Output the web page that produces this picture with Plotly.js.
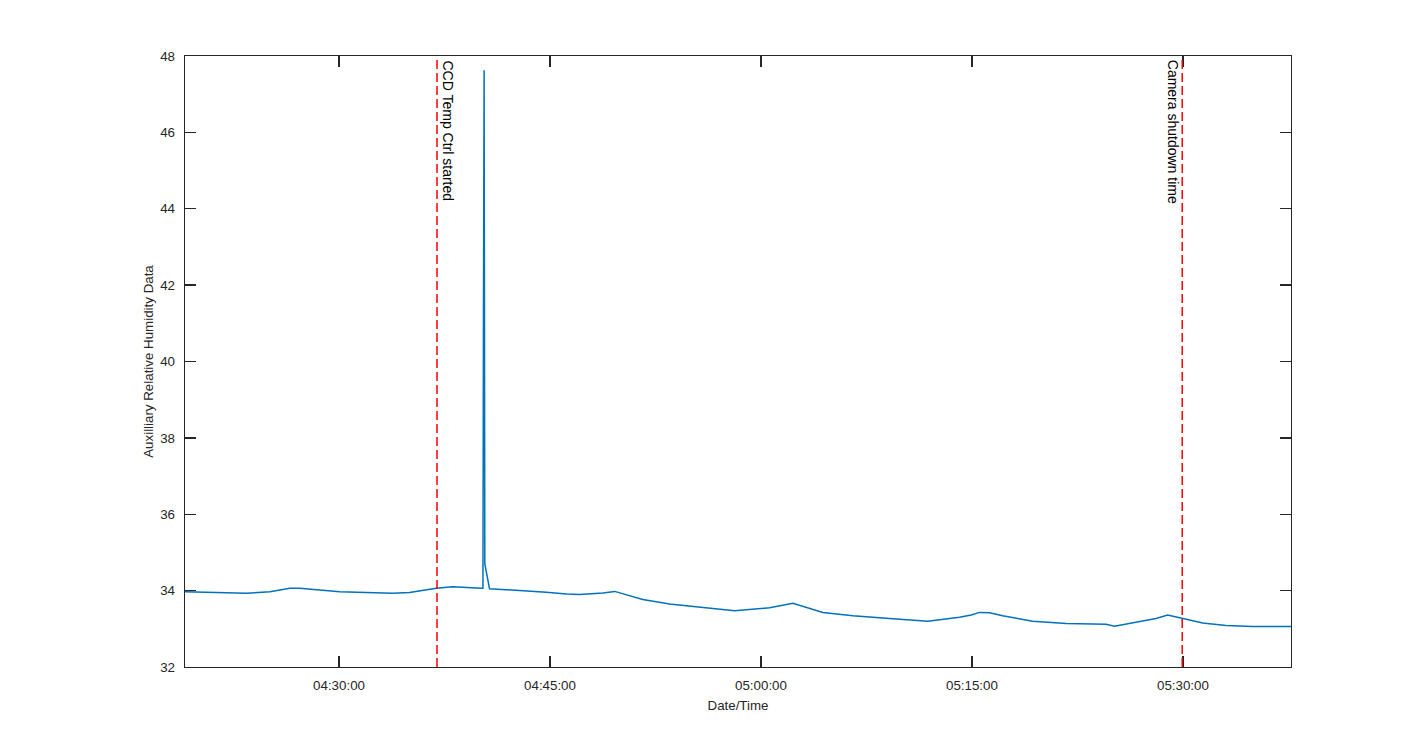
<!DOCTYPE html>
<html>
<head>
<meta charset="utf-8">
<script src="https://cdn.plot.ly/plotly-3.0.1.min.js"></script>
<style>
  html, body { margin: 0; padding: 0; background: #fff; }
  #plot { width: 1425px; height: 750px; }
</style>
</head>
<body>
<div id="plot"></div>
<script>
// humidity trace
const day = '2020-01-01 ';
const times = [
  '04:19:03', '04:20:06', '04:23:25', '04:25:05', '04:26:30', '04:27:12',
  '04:30:03', '04:33:49', '04:35:01', '04:36:55', '04:38:05', '04:40:07',
  '04:40:14', '04:40:16', '04:40:19', '04:40:22', '04:40:42',
  '04:44:44', '04:46:10', '04:47:06', '04:48:46', '04:49:36', '04:51:36',
  '04:53:30', '04:56:21', '04:58:07', '05:00:37', '05:02:16', '05:04:24',
  '05:06:32', '05:09:37', '05:11:52', '05:14:07', '05:14:57', '05:15:32',
  '05:16:15', '05:17:11', '05:19:19', '05:21:42', '05:24:32', '05:25:08',
  '05:26:26', '05:28:05', '05:28:55', '05:29:59', '05:31:24', '05:33:04',
  '05:34:57', '05:37:41'
];
const humidity = [
  33.97, 33.96, 33.93, 33.97, 34.06, 34.06,
  33.97, 33.93, 33.95, 34.06, 34.10, 34.06,
  34.06, 40.80, 47.63, 34.70, 34.05,
  33.96, 33.91, 33.90, 33.94, 33.98, 33.77,
  33.65, 33.54, 33.47, 33.55, 33.67, 33.43,
  33.34, 33.26, 33.20, 33.30, 33.36, 33.43,
  33.42, 33.34, 33.20, 33.14, 33.12, 33.07,
  33.15, 33.27, 33.36, 33.27, 33.15, 33.09,
  33.06, 33.06
];

// event markers (first label sits right of its line, second one left)
const eventTimes = ['04:36:58', '05:29:57'];
const eventLabels = ['CCD Temp Ctrl started', 'Camera shutdown time'];
const eventSide = ['left', 'right'];

const tickTimes = ['04:30:00', '04:45:00', '05:00:00', '05:15:00', '05:30:00'];
const yTicks = [32, 34, 36, 38, 40, 42, 44, 46, 48];

const font = 'Liberation Sans, Arial, Helvetica, sans-serif';
const axisCol = '#262626';

const trace = {
  x: times.map(t => day + t),
  y: humidity,
  type: 'scatter',
  mode: 'lines',
  line: {color: '#0072BD', width: 1.5},
  hoverinfo: 'skip'
};

const shapes = eventTimes.map(t => ({
  type: 'line', xref: 'x', yref: 'paper',
  x0: day + t, x1: day + t, y0: 0, y1: 1,
  line: {color: '#FF0000', width: 1.5, dash: '9px,4px'}
}));

const annotations = eventTimes.map((t, i) => ({
  xref: 'x', yref: 'paper',
  x: day + t, y: 1,
  text: eventLabels[i],
  showarrow: false,
  textangle: 90,
  xanchor: eventSide[i], yanchor: 'top',
  xshift: 1, yshift: -2,
  font: {family: font, size: 14, color: '#000'}
}));

const layout = {
  width: 1425, height: 750,
  margin: {l: 185, r: 134, t: 56, b: 83},
  paper_bgcolor: '#fff', plot_bgcolor: '#fff',
  showlegend: false,
  font: {family: font, size: 13.33, color: axisCol},
  xaxis: {
    type: 'date',
    range: [day + times[0], day + times[times.length - 1]],
    tickvals: tickTimes.map(t => day + t),
    tickformat: '%H:%M:%S',
    ticks: 'inside', ticklen: 11, tickwidth: 1.3, tickcolor: axisCol,
    showline: true, linecolor: axisCol, linewidth: 1.3, mirror: 'ticks',
    showgrid: false, zeroline: false,
    ticklabelstandoff: 6,
    title: {text: 'Date/Time', font: {family: font, size: 13.33, color: axisCol}, standoff: 8}
  },
  yaxis: {
    range: [32, 48],
    tickvals: yTicks,
    ticks: 'inside', ticklen: 11, tickwidth: 1.3, tickcolor: axisCol,
    showline: true, linecolor: axisCol, linewidth: 1.3, mirror: 'ticks',
    showgrid: false, zeroline: false,
    ticklabelstandoff: 6,
    title: {text: 'Auxilliary Relative Humidity Data', font: {family: font, size: 13.33, color: axisCol}, standoff: 3}
  },
  shapes: shapes,
  annotations: annotations
};

Plotly.newPlot('plot', [trace], layout, {staticPlot: true, displayModeBar: false});
</script>
</body>
</html>
